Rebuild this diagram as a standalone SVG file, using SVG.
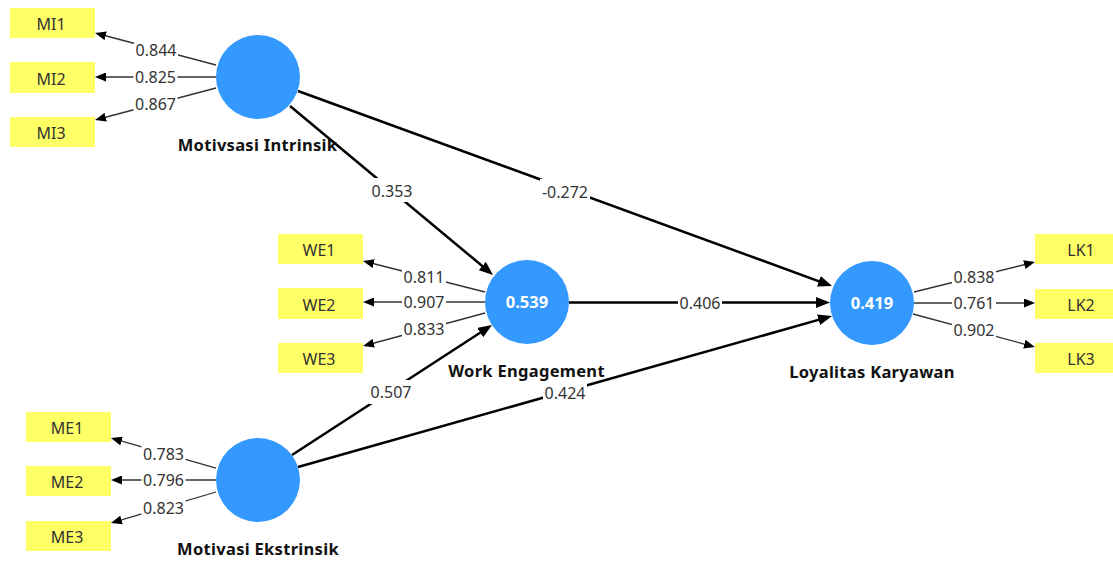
<svg xmlns="http://www.w3.org/2000/svg" width="1113" height="561" viewBox="0 0 1113 561">
  <style>
    .lv { fill: #3399ff; }
    .mv { fill: #ffff66; }
    .mvt { font-family: "Noto Sans", "Open Sans", sans-serif; font-size: 16px; fill: #333; text-anchor: middle; }
    .ttl { font-family: "Noto Sans", "Open Sans", sans-serif; font-size: 16.5px; letter-spacing: 0.3px; font-weight: bold; fill: #111; text-anchor: middle; }
    .val { font-family: "Noto Sans", "Open Sans", sans-serif; font-size: 16.5px; font-weight: bold; fill: #fff; text-anchor: middle; }
    .ol { stroke: #333; stroke-width: 1.3; fill: none; marker-end: url(#ahs); }
    .il { stroke: #000; stroke-width: 2.5; fill: none; marker-end: url(#ahl); }
    .lb rect { fill: #fff; }
    .lb text { font-family: "Noto Sans", "Open Sans", sans-serif; font-size: 16px; fill: #333; text-anchor: middle; }
  </style>
  <defs>
    <marker id="ahs" viewBox="0 0 11 9" refX="7" refY="4.5" markerWidth="11" markerHeight="9" markerUnits="userSpaceOnUse" orient="auto">
      <path d="M0,0 L11,4.5 L0,9 z" fill="#000"/>
    </marker>
    <marker id="ahl" viewBox="0 0 14 11" refX="9" refY="5.5" markerWidth="14" markerHeight="11" markerUnits="userSpaceOnUse" orient="auto">
      <path d="M0,0 L14,5.5 L0,11 z" fill="#000"/>
    </marker>
  </defs>
  <rect width="1113" height="561" fill="#fff"/>

  <!-- Motivasi Intrinsik -->
  <g id="motivsasi-intrinsik">
    <circle class="lv" cx="258" cy="77" r="42"/>
    <text class="ttl" x="257.5" y="151">Motivsasi Intrinsik</text>
  </g>
  <g id="mi1"><rect class="mv" x="10" y="8" width="85" height="30"/><text class="mvt" x="51" y="30">MI1</text></g>
  <g id="mi2"><rect class="mv" x="10" y="62" width="85" height="31"/><text class="mvt" x="51" y="84.5">MI2</text></g>
  <g id="mi3"><rect class="mv" x="10" y="117" width="85" height="30"/><text class="mvt" x="51" y="139">MI3</text></g>

  <!-- Work Engagement -->
  <g id="work-engagement">
    <circle class="lv" cx="527" cy="302" r="42"/>
    <text class="val" x="527" y="308">0.539</text>
    <text class="ttl" x="526.5" y="377">Work Engagement</text>
  </g>
  <g id="we1"><rect class="mv" x="278" y="234" width="85" height="30"/><text class="mvt" x="319" y="256">WE1</text></g>
  <g id="we2"><rect class="mv" x="278" y="288" width="85" height="31"/><text class="mvt" x="319" y="310.5">WE2</text></g>
  <g id="we3"><rect class="mv" x="278" y="343" width="85" height="30"/><text class="mvt" x="319" y="365">WE3</text></g>

  <!-- Motivasi Ekstrinsik -->
  <g id="motivasi-ekstrinsik">
    <circle class="lv" cx="258" cy="480" r="42"/>
    <text class="ttl" x="258" y="555">Motivasi Ekstrinsik</text>
  </g>
  <g id="me1"><rect class="mv" x="26" y="412" width="85" height="30"/><text class="mvt" x="67" y="434">ME1</text></g>
  <g id="me2"><rect class="mv" x="26" y="466" width="85" height="30"/><text class="mvt" x="67" y="488">ME2</text></g>
  <g id="me3"><rect class="mv" x="26" y="521" width="85" height="30"/><text class="mvt" x="67" y="543">ME3</text></g>

  <!-- Loyalitas Karyawan -->
  <g id="loyalitas-karyawan">
    <circle class="lv" cx="872" cy="303" r="42"/>
    <text class="val" x="872" y="309">0.419</text>
    <text class="ttl" x="872" y="378">Loyalitas Karyawan</text>
  </g>
  <g id="lk1"><rect class="mv" x="1035" y="234" width="90" height="30"/><text class="mvt" x="1081" y="256">LK1</text></g>
  <g id="lk2"><rect class="mv" x="1035" y="289" width="90" height="30"/><text class="mvt" x="1081" y="311">LK2</text></g>
  <g id="lk3"><rect class="mv" x="1035" y="343" width="90" height="30"/><text class="mvt" x="1081" y="365">LK3</text></g>

  <!-- connectors: outer loadings and inner path coefficients -->
  <g id="connectors">
    <line class="ol" x1="216" y1="65" x2="98.9" y2="34"/>
    <line class="ol" x1="216" y1="77" x2="99" y2="77"/>
    <line class="ol" x1="216" y1="88" x2="98.9" y2="119"/>

    <line class="ol" x1="485" y1="292" x2="366.9" y2="262"/>
    <line class="ol" x1="485" y1="302" x2="367" y2="302"/>
    <line class="ol" x1="485" y1="313" x2="366.9" y2="345"/>

    <line class="ol" x1="216" y1="468" x2="114.8" y2="439.1"/>
    <line class="ol" x1="216" y1="480" x2="115" y2="480"/>
    <line class="ol" x1="216" y1="492" x2="114.8" y2="521.9"/>

    <line class="ol" x1="914" y1="292" x2="1031.1" y2="263"/>
    <line class="ol" x1="914" y1="303" x2="1031" y2="303"/>
    <line class="ol" x1="913" y1="314" x2="1031.1" y2="346"/>

    <line class="il" x1="290" y1="106" x2="489.2" y2="271.8"/>
    <line class="il" x1="298" y1="91" x2="827.3" y2="284.3"/>
    <line class="il" x1="569" y1="302.5" x2="825" y2="302.5"/>
    <line class="il" x1="292" y1="455" x2="487.8" y2="327.7"/>
    <line class="il" x1="298" y1="467" x2="827.2" y2="317.4"/>

    <g class="lb"><rect x="134" y="38" width="44" height="24"/><text x="156" y="56">0.844</text></g>
    <g class="lb"><rect x="133.5" y="65" width="44" height="24"/><text x="155.5" y="83">0.825</text></g>
    <g class="lb"><rect x="133.5" y="92" width="44" height="24"/><text x="155.5" y="110">0.867</text></g>

    <g class="lb"><rect x="402" y="265" width="44" height="24"/><text x="424" y="283">0.811</text></g>
    <g class="lb"><rect x="402" y="290" width="44" height="24"/><text x="424" y="308">0.907</text></g>
    <g class="lb"><rect x="402" y="317" width="44" height="24"/><text x="424" y="335">0.833</text></g>

    <g class="lb"><rect x="141.5" y="442" width="44" height="24"/><text x="163.5" y="460">0.783</text></g>
    <g class="lb"><rect x="141.5" y="468" width="44" height="24"/><text x="163.5" y="486">0.796</text></g>
    <g class="lb"><rect x="141.5" y="496" width="44" height="24"/><text x="163.5" y="514">0.823</text></g>

    <g class="lb"><rect x="952" y="265" width="44" height="24"/><text x="974" y="283">0.838</text></g>
    <g class="lb"><rect x="952" y="291" width="44" height="24"/><text x="974" y="309">0.761</text></g>
    <g class="lb"><rect x="952" y="318" width="44" height="24"/><text x="974" y="336">0.902</text></g>

    <g class="lb"><rect x="370" y="178" width="44" height="24"/><text x="392" y="197">0.353</text></g>
    <g class="lb"><rect x="540" y="179" width="50" height="24"/><text x="565" y="198">-0.272</text></g>
    <g class="lb"><rect x="678" y="290.5" width="44" height="24"/><text x="700" y="309">0.406</text></g>
    <g class="lb"><rect x="369" y="380" width="44" height="24"/><text x="391" y="398">0.507</text></g>
    <g class="lb"><rect x="543" y="381" width="44" height="24"/><text x="565" y="399">0.424</text></g>
  </g>
</svg>
